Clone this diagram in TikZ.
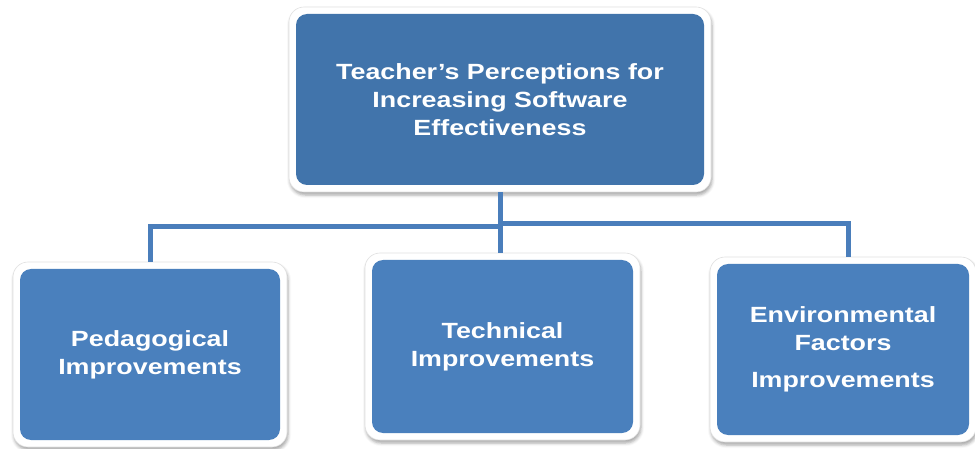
\documentclass[tikz,border=0pt]{standalone}
\usepackage{fontspec}
\setmainfont{Liberation Sans}[FakeStretch=1.22]
\usetikzlibrary{shadows.blur}

\definecolor{topblue}{RGB}{65,116,171}
\definecolor{lowblue}{RGB}{74,128,189}
\definecolor{lineblue}{RGB}{74,126,187}

\begin{document}
\begin{tikzpicture}[x=1pt,y=-1pt,
   tbox/.style={rectangle, rounded corners=15pt, fill=white, draw=black!12,
      line width=.6pt, inner sep=0pt, align=center, text=white,
      font=\bfseries\fontsize{22}{28}\selectfont,
      blur shadow={shadow xshift=1pt, shadow yshift=-3pt,
         shadow blur radius=3pt, shadow opacity=35},
      path picture={\fill[#1, rounded corners=11pt]
         ([shift={(7pt,7pt)}]path picture bounding box.south west) rectangle
         ([shift={(-7pt,-7pt)}]path picture bounding box.north east);}},
   tbox/.default=lowblue,
   conn/.style={draw=lineblue, line width=5pt}]
   \useasboundingbox (0,0) rectangle (975,449);

   \node[tbox=topblue, minimum width=422pt, minimum height=185pt] (top) at (500,99.5)
      {Teacher's Perceptions for\\Increasing Software\\Effectiveness};
   \node[tbox, minimum width=274pt, minimum height=185pt] (peda) at (150,354.5)
      {Pedagogical\\Improvements};
   \node[tbox, minimum width=275pt, minimum height=187pt] (tech) at (502.5,346.5)
      {Technical\\Improvements};
   \node[tbox, minimum width=266pt, minimum height=185pt] (envi) at (843,349.5)
      {Environmental\\Factors\\[9pt]Improvements};

   \coordinate (jl) at (500,227);
   \coordinate (jr) at (500,224);

   \path[conn] (top.south) -- (top.south |- tech.north);
   \path[conn] (jl) -| (peda.north);
   \path[conn] (jr) -| ([xshift=5pt]envi.north);
\end{tikzpicture}
\end{document}
